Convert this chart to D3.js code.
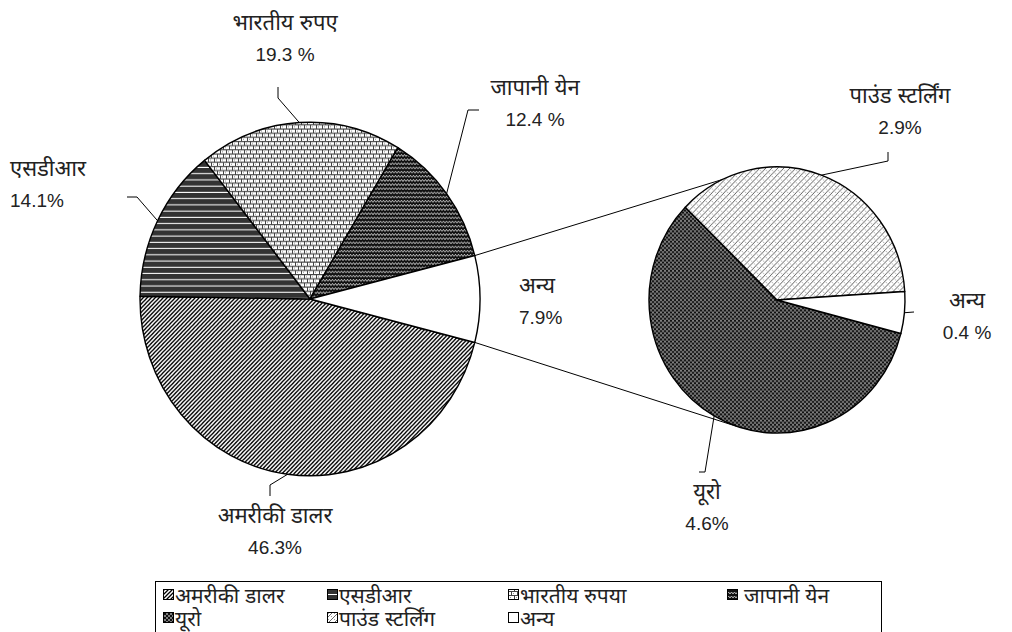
<!DOCTYPE html>
<html>
<head>
<meta charset="utf-8">
<script src="https://cdn.jsdelivr.net/npm/d3@7"></script>
<style>
  body { margin: 0; background: #fff; }
  svg text { font-family: "Liberation Sans", Arial, "Noto Sans Devanagari", "Lohit Devanagari", sans-serif; fill: #222; }
</style>
</head>
<body>
<svg id="chart" width="1012" height="632"></svg>
<script>
// main pie
let mainNames = ["अमरीकी डालर", "एसडीआर", "भारतीय रुपए", "जापानी येन", "अन्य"];
let mainValues = [46.3, 14.1, 19.3, 12.4, 7.9];
let mainValueText = ["46.3%", "14.1%", "19.3 %", "12.4 %", "7.9%"];
let mainKeys = ["usd", "sdr", "inr", "jpy", "oth"];

// secondary pie (breakdown of "अन्य")
let subNames = ["यूरो", "पाउंड स्टर्लिंग", "अन्य"];
let subValues = [4.6, 2.9, 0.4];
let subValueText = ["4.6%", "2.9%", "0.4 %"];
let subKeys = ["eur", "gbp", "oth"];

// legend
let legendNames = ["अमरीकी डालर", "एसडीआर", "भारतीय रुपया", "जापानी येन", "यूरो", "पाउंड स्टर्लिंग", "अन्य"];
let legendKeys = ["usd", "sdr", "inr", "jpy", "eur", "gbp", "oth"];

let svg = d3.select("#chart");
let deg = Math.PI / 180;
let yStretch = 1.04;

//patterns
let defs = svg.append("defs");
function pattern(id, w, h, bg) {
    let p = defs.append("pattern")
        .attr("id", id)
        .attr("patternUnits", "userSpaceOnUse")
        .attr("width", w)
        .attr("height", h);
    p.append("rect").attr("width", w).attr("height", h).attr("fill", bg);
    return p;
}
pattern("usd", 4, 4, "#fff")
    .append("path")
    .attr("d", "M-1,1 L1,-1 M0,4 L4,0 M3,5 L5,3")
    .attr("stroke", "#000").attr("stroke-width", 1.3);
let sdr = pattern("sdr", 6, 6, "#333");
sdr.append("rect").attr("y", 5).attr("width", 6).attr("height", 1).attr("fill", "#fff");
let inr = pattern("inr", 6, 8, "#fff");
inr.append("path")
    .attr("d", "M0,0.5 H6 M0,4.5 H6 M0.5,0 V4 M3.5,4 V8")
    .attr("stroke", "#444").attr("stroke-width", 1);
inr.append("rect").attr("x", 2).attr("y", 2).attr("width", 1).attr("height", 1).attr("fill", "#999");
inr.append("rect").attr("x", 5).attr("y", 6).attr("width", 1).attr("height", 1).attr("fill", "#999");
pattern("jpy", 6, 4, "#111")
    .append("path")
    .attr("d", "M0,3 L1.5,1 L3,3 L4.5,1 L6,3")
    .attr("fill", "none").attr("stroke", "#ddd").attr("stroke-width", 0.8);
pattern("eur", 4, 4, "#111")
    .append("path")
    .attr("d", "M0,0 L4,4 M4,0 L0,4")
    .attr("stroke", "#999").attr("stroke-width", 0.8);
let gbp = pattern("gbp", 6, 6, "#fff");
gbp.append("path")
    .attr("d", "M0,6 L6,0 M-1,1 L1,-1 M5,7 L7,5")
    .attr("stroke", "#444").attr("stroke-width", 0.8);
gbp.append("path")
    .attr("d", "M1,1 L2,2 M4,4 L5,5")
    .attr("stroke", "#888").attr("stroke-width", 0.8);
pattern("oth", 4, 4, "#fff");

function edgePoint(c, r, a) {
    return [c[0] + r * Math.sin(a), c[1] - r * yStretch * Math.cos(a)];
}

// main pie layout, "अन्य" slice centred at 3 o'clock
let mainC = [310, 299], mainR = 170;
let mainTotal = d3.sum(mainValues);
let mainArcs = d3.pie().sort(null)
    .startAngle(Math.PI / 2 + Math.PI * mainValues[4] / mainTotal)
    .endAngle(Math.PI / 2 + Math.PI * mainValues[4] / mainTotal + 2 * Math.PI)
    (mainValues);

let subC = [777, 300], subR = 128;
let subStart = 104.6 * deg;
let subArcs = d3.pie().sort(null)
    .startAngle(subStart).endAngle(subStart + 2 * Math.PI)
    (subValues);

// connector lines main "अन्य" -> secondary pie
let other = mainArcs[4];
let connectors = [
    [edgePoint(mainC, mainR, other.startAngle), edgePoint(subC, subR, -25 * deg)],
    [edgePoint(mainC, mainR, other.endAngle), edgePoint(subC, subR, 198 * deg)]
];
svg.append("g").selectAll("line")
    .data(connectors)
    .enter().append("line")
    .attr("x1", (d) => d[0][0]).attr("y1", (d) => d[0][1])
    .attr("x2", (d) => d[1][0]).attr("y2", (d) => d[1][1])
    .attr("stroke", "#000").attr("stroke-width", 1);

function drawPie(arcs, keys, c, r) {
    let arc = d3.arc().innerRadius(0).outerRadius(r);
    svg.append("g")
        .attr("transform", "translate(" + c[0] + "," + c[1] + ") scale(1," + yStretch + ")")
        .selectAll("path")
        .data(arcs)
        .enter().append("path")
        .attr("d", arc)
        .attr("fill", (d, i) => "url(#" + keys[i] + ")")
        .attr("stroke", "#000")
        .attr("stroke-width", 1.4)
        .attr("stroke-linejoin", "round");
}
drawPie(mainArcs, mainKeys, mainC, mainR);
drawPie(subArcs, subKeys, subC, subR);

// label layout: text position + leader bends (null = no leader)
let mainLabelPos = [
    {x: 275, y: 515, anchor: "middle", bend: [[270, 485], [270, 496]]},
    {x: 10, y: 168, anchor: "start", bend: [[137, 197], [127, 197]]},
    {x: 285, y: 22, anchor: "middle", bend: [[278, 98], [278, 87]]},
    {x: 535, y: 87, anchor: "middle", bend: [[468, 110], [479, 110]]},
    {x: 519, y: 285, anchor: "start", bend: null}
];
let subLabelPos = [
    {x: 707, y: 491, anchor: "middle", bend: [[705, 472], [699, 472]]},
    {x: 900, y: 95, anchor: "middle", bend: [[888, 161], [888, 152]]},
    {x: 967, y: 300, anchor: "middle", bend: [[914, 312]]}
];
let lineGap = 32;

function drawLabels(arcs, names, texts, pos, c, r) {
    let g = svg.append("g");
    arcs.forEach((d, i) => {
        let p = pos[i];
        if (p.bend) {
            let mid = (d.startAngle + d.endAngle) / 2;
            let pts = [edgePoint(c, r, mid)].concat(p.bend);
            g.append("path")
                .attr("d", d3.line()(pts))
                .attr("fill", "none")
                .attr("stroke", "#000")
                .attr("stroke-width", 1);
        }
        g.append("text")
            .attr("x", p.x).attr("y", p.y)
            .attr("text-anchor", p.anchor)
            .attr("dominant-baseline", "central")
            .attr("font-size", 22)
            .text(names[i]);
        g.append("text")
            .attr("x", p.x).attr("y", p.y + lineGap)
            .attr("text-anchor", p.anchor)
            .attr("dominant-baseline", "central")
            .attr("font-size", 19)
            .text(texts[i]);
    });
}
drawLabels(mainArcs, mainNames, mainValueText, mainLabelPos, mainC, mainR);
drawLabels(subArcs, subNames, subValueText, subLabelPos, subC, subR);

// legend
let legend = svg.append("g");
legend.append("rect")
    .attr("x", 155.5).attr("y", 581.5)
    .attr("width", 726).attr("height", 52)
    .attr("fill", "#fff").attr("stroke", "#000").attr("stroke-width", 1);
let legendCols = [163, 327, 508, 727];
let legendRows = [595, 618];
let item = legend.selectAll("g.item")
    .data(legendKeys)
    .enter().append("g")
    .attr("class", "item")
    .attr("transform", (d, i) => "translate(" + legendCols[i % 4] + "," + legendRows[Math.floor(i / 4)] + ")");
item.append("rect")
    .attr("x", 0.5).attr("y", -5.5)
    .attr("width", 10).attr("height", 10)
    .attr("fill", (d) => "url(#" + d + ")")
    .attr("stroke", "#000").attr("stroke-width", 1);
item.append("text")
    .attr("x", (d, i) => i === 3 ? 17 : 12)
    .attr("y", 0)
    .attr("dominant-baseline", "central")
    .attr("font-size", 21)
    .text((d, i) => legendNames[i]);
</script>
</body>
</html>
